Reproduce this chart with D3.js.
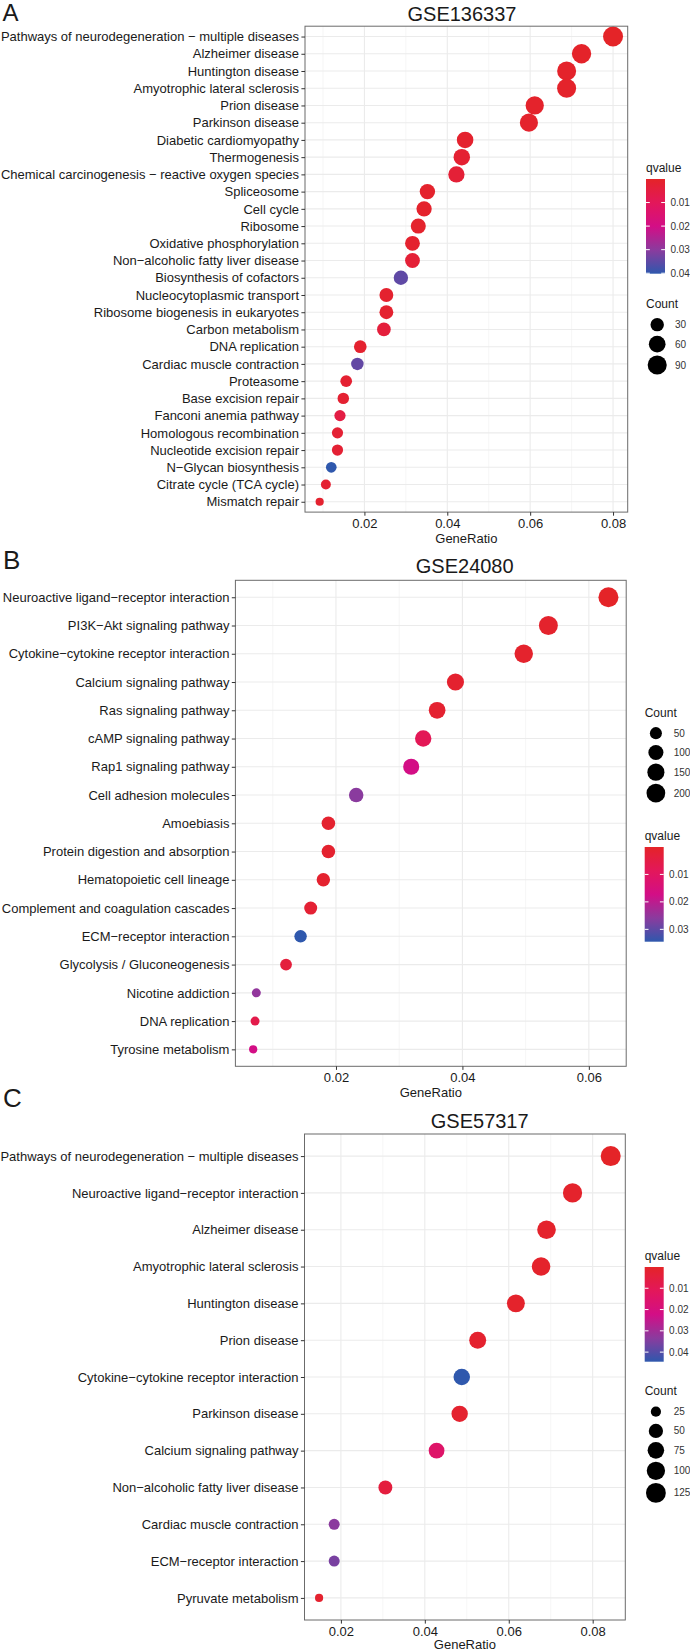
<!DOCTYPE html>
<html><head><meta charset="utf-8">
<script src="https://cdn.jsdelivr.net/npm/d3@7"></script>
<style>
body{margin:0;background:#fff;}
text{font-family:"Liberation Sans",Arial,Helvetica,sans-serif;}
</style></head><body>
<svg id="chart" width="690" height="1652"></svg>
<script>
// ---------------- Panel A : GSE136337 ----------------
const catsA = ["Pathways of neurodegeneration − multiple diseases","Alzheimer disease","Huntington disease","Amyotrophic lateral sclerosis","Prion disease","Parkinson disease","Diabetic cardiomyopathy","Thermogenesis","Chemical carcinogenesis − reactive oxygen species","Spliceosome","Cell cycle","Ribosome","Oxidative phosphorylation","Non−alcoholic fatty liver disease","Biosynthesis of cofactors","Nucleocytoplasmic transport","Ribosome biogenesis in eukaryotes","Carbon metabolism","DNA replication","Cardiac muscle contraction","Proteasome","Base excision repair","Fanconi anemia pathway","Homologous recombination","Nucleotide excision repair","N−Glycan biosynthesis","Citrate cycle (TCA cycle)","Mismatch repair"];
const ratioA = [0.0800,0.0724,0.0688,0.0688,0.0611,0.0597,0.0443,0.0435,0.0422,0.0352,0.0344,0.0330,0.0316,0.0316,0.0288,0.0253,0.0253,0.0247,0.0190,0.0183,0.0156,0.0149,0.0141,0.0135,0.0135,0.0120,0.0107,0.0092];
const countA = [104,94,89,89,79,78,58,57,55,46,45,43,41,41,37,33,33,32,25,24,20,19,18,18,18,16,14,12];
const qA = [0.00001,0.0004,0.0006,0.0006,0.0008,0.001,0.0012,0.002,0.003,0.001,0.001,0.001,0.0015,0.003,0.035,0.0015,0.0015,0.004,0.0015,0.0345,0.002,0.002,0.0056,0.0025,0.0025,0.0402,0.002,0.0015];
const xTicksA = [0.02,0.04,0.06,0.08];
const countBreaksA = [30,60,90];
const qBreaksA = [0.01,0.02,0.03,0.04];

// ---------------- Panel B : GSE24080 ----------------
const catsB = ["Neuroactive ligand−receptor interaction","PI3K−Akt signaling pathway","Cytokine−cytokine receptor interaction","Calcium signaling pathway","Ras signaling pathway","cAMP signaling pathway","Rap1 signaling pathway","Cell adhesion molecules","Amoebiasis","Protein digestion and absorption","Hematopoietic cell lineage","Complement and coagulation cascades","ECM−receptor interaction","Glycolysis / Gluconeogenesis","Nicotine addiction","DNA replication","Tyrosine metabolism"];
const ratioB = [0.0631,0.0536,0.0497,0.0389,0.0360,0.0338,0.0319,0.0232,0.0188,0.0188,0.0180,0.0160,0.0144,0.0121,0.0074,0.0072,0.0069];
const countB = [243,206,191,150,139,130,123,89,72,72,69,62,55,47,28,28,27];
const qB = [0.00001,0.0008,0.0008,0.0012,0.0015,0.008,0.017,0.026,0.0012,0.0012,0.0012,0.002,0.0345,0.0035,0.025,0.006,0.017];
const xTicksB = [0.02,0.04,0.06];
const countBreaksB = [50,100,150,200];
const qBreaksB = [0.01,0.02,0.03];

// ---------------- Panel C : GSE57317 ----------------
const catsC = ["Pathways of neurodegeneration − multiple diseases","Neuroactive ligand−receptor interaction","Alzheimer disease","Amyotrophic lateral sclerosis","Huntington disease","Prion disease","Cytokine−cytokine receptor interaction","Parkinson disease","Calcium signaling pathway","Non−alcoholic fatty liver disease","Cardiac muscle contraction","ECM−receptor interaction","Pyruvate metabolism"];
const ratioC = [0.0843,0.0752,0.0690,0.0677,0.0617,0.0526,0.0488,0.0483,0.0428,0.0306,0.0184,0.0184,0.0148];
const countC = [128,114,105,103,94,80,74,73,65,47,28,28,22];
const qC = [0.00001,0.0008,0.001,0.001,0.001,0.0015,0.0445,0.0015,0.0147,0.005,0.0334,0.0356,0.0015];
const xTicksC = [0.02,0.04,0.06,0.08];
const countBreaksC = [25,50,75,100,125];
const qBreaksC = [0.01,0.02,0.03,0.04];

// ---------------- styling / layout ----------------
const colorStops = ["#E42428","#E3175A","#D30E86","#8B3B9E","#2F58AD"];
const qInterp = d3.piecewise(d3.interpolateRgb, colorStops);
const R_MIN = 4.1, R_MAX = 10;

const panels = [
  {cats:catsA, ratio:ratioA, count:countA, q:qA, xTicks:xTicksA, sizeBreaks:countBreaksA, qBreaks:qBreaksA,
   title:"GSE136337", letter:"A",
   L:{left:305, right:627.7, top:26.2, bottom:512.1, titleX:462, titleY:21.4, letterX:2.5, letterY:20.7, letterSize:24,
      legX:646, qTitleY:172, cTitleY:308, xTitleOff:31}},
  {cats:catsB, ratio:ratioB, count:countB, q:qB, xTicks:xTicksB, sizeBreaks:countBreaksB, qBreaks:qBreaksB,
   title:"GSE24080", letter:"B",
   L:{left:235.4, right:626.2, top:580.3, bottom:1066.3, titleX:464.7, titleY:573.3, letterX:3, letterY:569.3, letterSize:26,
      legX:644.7, qTitleY:840, cTitleY:716.5, xTitleOff:31}},
  {cats:catsC, ratio:ratioC, count:countC, q:qC, xTicks:xTicksC, sizeBreaks:countBreaksC, qBreaks:qBreaksC,
   title:"GSE57317", letter:"C",
   L:{left:304.5, right:625.3, top:1134, bottom:1620, titleX:479.7, titleY:1128.3, letterX:3, letterY:1107.3, letterSize:26,
      legX:644.7, qTitleY:1260, cTitleY:1395, xTitleOff:28.5}}
];

const svg = d3.select("#chart");
svg.append("rect").attr("width",690).attr("height",1652).attr("fill","#fff");
const defs = svg.append("defs");

panels.forEach((P, pi) => {
  const L = P.L;
  const g = svg.append("g");
  const ext = d3.extent(P.ratio);
  const pad = (ext[1]-ext[0])*0.05;
  const x = d3.scaleLinear().domain([ext[0]-pad, ext[1]+pad]).range([L.left, L.right]);
  const y = d3.scalePoint().domain(P.cats).range([L.top, L.bottom]).padding(0.6);

  const qExt = d3.extent(P.q);
  const qNorm = d3.scaleLinear().domain(qExt).range([0,1]).clamp(true);
  const color = v => qInterp(qNorm(v));
  const cExt = d3.extent(P.count);
  const cNorm = d3.scaleLinear().domain(cExt).range([0,1]);
  const rad = v => R_MIN + (R_MAX-R_MIN)*Math.sqrt(Math.max(0, Math.min(1, cNorm(v))));

  // grid
  const step = P.xTicks[1]-P.xTicks[0];
  const dom = x.domain();
  const minor = d3.range(P.xTicks[0]-step/2, dom[1], step).filter(v => v > dom[0] && v < dom[1]);
  g.append("g").selectAll("line").data(minor).join("line")
    .attr("x1", d=>x(d)).attr("x2", d=>x(d)).attr("y1", L.top).attr("y2", L.bottom)
    .attr("stroke","#F2F2F2").attr("stroke-width",0.7);
  g.append("g").selectAll("line").data(P.xTicks).join("line")
    .attr("x1", d=>x(d)).attr("x2", d=>x(d)).attr("y1", L.top).attr("y2", L.bottom)
    .attr("stroke","#EBEBEB").attr("stroke-width",1.1);
  g.append("g").selectAll("line").data(P.cats).join("line")
    .attr("x1", L.left).attr("x2", L.right).attr("y1", d=>y(d)).attr("y2", d=>y(d))
    .attr("stroke","#EBEBEB").attr("stroke-width",1.1);

  // points
  const rows = P.cats.map((c,i)=>({c, r:P.ratio[i], n:P.count[i], q:P.q[i]}));
  g.append("g").selectAll("circle").data(rows).join("circle")
    .attr("cx", d=>x(d.r)).attr("cy", d=>y(d.c)).attr("r", d=>rad(d.n))
    .attr("fill", d=>color(d.q));

  // border
  g.append("rect").attr("x",L.left).attr("y",L.top).attr("width",L.right-L.left).attr("height",L.bottom-L.top)
    .attr("fill","none").attr("stroke","#6b6b6b").attr("stroke-width",1);

  // axes
  const ax = g.append("g").attr("transform",`translate(0,${L.bottom})`)
    .call(d3.axisBottom(x).tickValues(P.xTicks).tickFormat(d3.format(".2f")).tickSize(3.6).tickPadding(3.2).tickSizeOuter(0));
  const ay = g.append("g").attr("transform",`translate(${L.left},0)`)
    .call(d3.axisLeft(y).tickSize(3.6).tickPadding(2.4).tickSizeOuter(0));
  [ax, ay].forEach(a => {
    a.select(".domain").remove();
    a.selectAll(".tick line").attr("stroke","#333").attr("stroke-width",1);
    a.selectAll(".tick text").attr("fill","#1a1a1a").style("font-size","13px")
      .style("font-family",'"Liberation Sans",Arial,sans-serif');
  });

  // titles
  g.append("text").attr("x",L.titleX).attr("y",L.titleY).attr("text-anchor","middle")
    .style("font-size","20px").attr("fill","#1a1a1a").text(P.title);
  g.append("text").attr("x",(L.left+L.right)/2).attr("y",L.bottom+L.xTitleOff).attr("text-anchor","middle")
    .style("font-size","13px").attr("fill","#1a1a1a").text("GeneRatio");
  g.append("text").attr("x",L.letterX).attr("y",L.letterY)
    .style("font-size",L.letterSize+"px").attr("fill","#1a1a1a").text(P.letter);

  // colour legend
  const barW = 19, barH = 94.7;
  const barTop = L.qTitleY + 7;
  g.append("text").attr("x",L.legX).attr("y",L.qTitleY).style("font-size","12px").attr("fill","#1a1a1a").text("qvalue");
  const gid = "grad"+pi;
  const grad = defs.append("linearGradient").attr("id",gid).attr("x1",0).attr("y1",0).attr("x2",0).attr("y2",1);
  d3.range(0,1.0001,0.05).forEach(t => grad.append("stop").attr("offset",t).attr("stop-color",qInterp(t)));
  g.append("rect").attr("x",L.legX).attr("y",barTop).attr("width",barW).attr("height",barH).attr("fill",`url(#${gid})`);
  const qy = d3.scaleLinear().domain(qExt).range([barTop, barTop+barH]);
  const qb = P.qBreaks.filter(v => v>=qExt[0] && v<=qExt[1]+1e-9);
  g.append("g").selectAll("line").data(qb).join("line")
    .attr("x1",L.legX).attr("x2",L.legX+barW/5).attr("y1",d=>qy(d)).attr("y2",d=>qy(d)).attr("stroke","#fff").attr("stroke-width",1);
  g.append("g").selectAll("line").data(qb).join("line")
    .attr("x1",L.legX+barW*4/5).attr("x2",L.legX+barW).attr("y1",d=>qy(d)).attr("y2",d=>qy(d)).attr("stroke","#fff").attr("stroke-width",1);
  g.append("g").selectAll("text").data(qb).join("text")
    .attr("x",L.legX+barW+5.4).attr("y",d=>qy(d)).attr("dy","0.35em")
    .style("font-size","10px").attr("fill","#333").text(d=>d3.format(".2f")(d));

  // size legend
  g.append("text").attr("x",L.legX).attr("y",L.cTitleY).style("font-size","12px").attr("fill","#1a1a1a").text("Count");
  let cur = L.cTitleY + 7;
  const keys = P.sizeBreaks.map(v => {
    const r = rad(v); const h = Math.max(19.3, 2*r+3);
    const k = {v, r, cy: cur + h/2}; cur += h; return k;
  });
  g.append("g").selectAll("circle").data(keys).join("circle")
    .attr("cx",L.legX+11.2).attr("cy",d=>d.cy).attr("r",d=>d.r).attr("fill","#000");
  g.append("g").selectAll("text").data(keys).join("text")
    .attr("x",L.legX+29).attr("y",d=>d.cy).attr("dy","0.35em")
    .style("font-size","10px").attr("fill","#333").text(d=>d.v);
});
</script>
</body></html>
